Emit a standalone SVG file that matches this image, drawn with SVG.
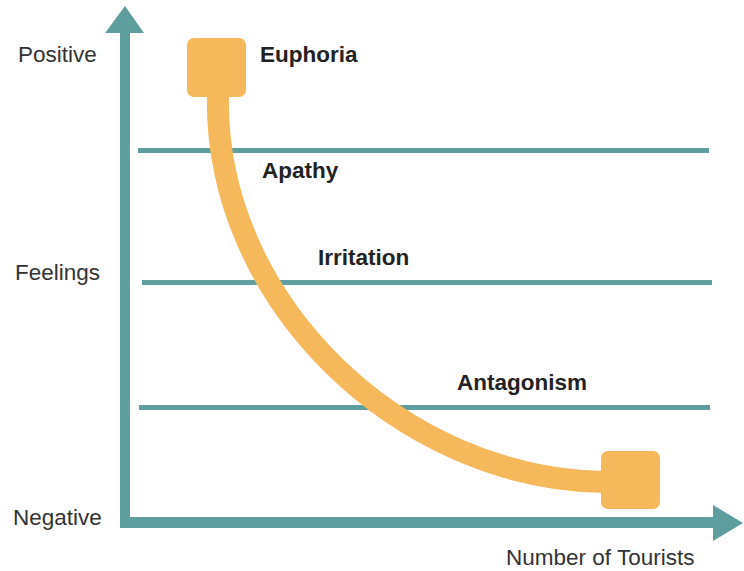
<svg xmlns="http://www.w3.org/2000/svg" width="744" height="571" viewBox="0 0 744 571">
<style>
.axis{fill:#5f9e9f}
.level{stroke:#5f9e9f;stroke-width:5;fill:none}
.lbl{font-family:"Liberation Sans",Arial,sans-serif;font-size:22.5px;fill:#333}
.stage{font-family:"Liberation Sans",Arial,sans-serif;font-size:22.5px;font-weight:bold;fill:#222}
.box{fill:#f5b95b}
.curve{stroke:#f5b95b;stroke-width:22;fill:none}
</style>
<rect width="744" height="571" fill="#fff"/>
<g id="axes">
<rect class="axis" x="120" y="30" width="10" height="498"/>
<polygon class="axis" points="125,6 144,33 105,33"/>
<rect class="axis" x="120" y="517" width="596" height="11"/>
<polygon class="axis" points="743,523 713,505 713,541"/>
</g>
<g id="levels">
<line class="level" x1="138" y1="150.5" x2="709" y2="150.5"/>
<line class="level" x1="142" y1="282.5" x2="712" y2="282.5"/>
<line class="level" x1="139" y1="407.5" x2="710" y2="407.5"/>
</g>
<g id="connectors">
<path class="curve" d="M218,92 C212,300 400,480 606,482"/>
</g>
<g id="euphoria-node">
<rect class="box" x="187" y="38" width="59" height="59" rx="7"/>
<text class="stage" x="260" y="62">Euphoria</text>
</g>
<g id="end-node">
<rect class="box" x="601" y="451" width="59" height="58" rx="7"/>
</g>
<g id="apathy"><text class="stage" x="262" y="178">Apathy</text></g>
<g id="irritation"><text class="stage" x="318" y="265">Irritation</text></g>
<g id="antagonism"><text class="stage" x="457" y="390">Antagonism</text></g>
<g id="labels">
<text class="lbl" x="18" y="62">Positive</text>
<text class="lbl" x="15" y="280">Feelings</text>
<text class="lbl" x="13" y="525">Negative</text>
<text class="lbl" x="506" y="565">Number of Tourists</text>
</g>
</svg>
